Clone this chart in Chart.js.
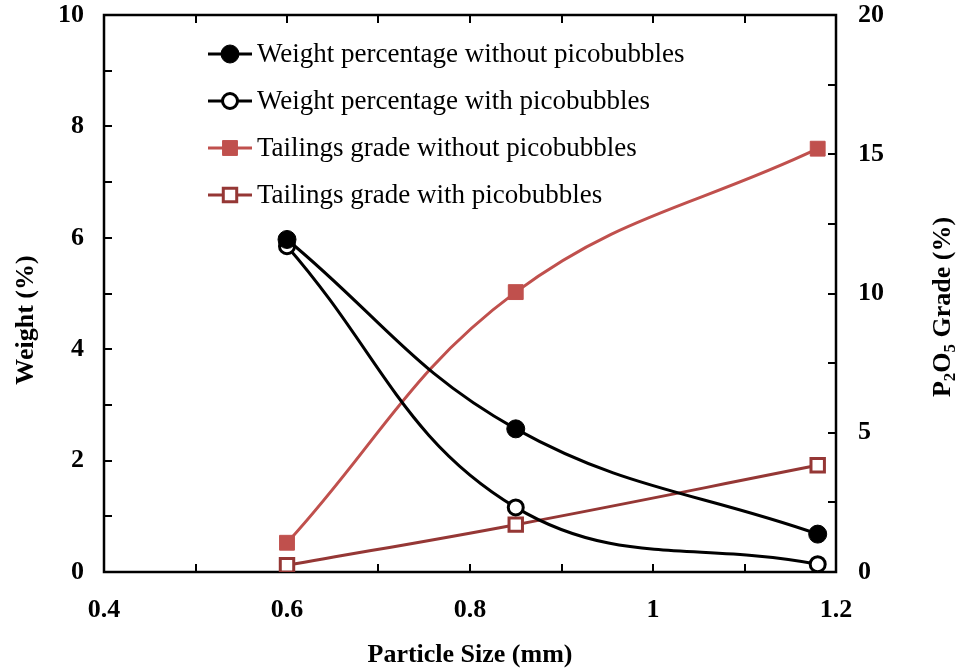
<!DOCTYPE html>
<html>
<head>
<meta charset="utf-8">
<script src="https://cdn.jsdelivr.net/npm/chart.js@4.4.1/dist/chart.umd.min.js"></script>
<style>
  html, body { margin: 0; padding: 0; background: #fff; }
  #wrap { width: 961px; height: 672px; }
</style>
</head>
<body>
<div id="wrap"><canvas id="chart" width="961" height="672"></canvas></div>
<script>
// particle size classes (mm)
const sizes = [0.6, 0.85, 1.18];

// weight percentage, left axis (%)
const weightWithout = [5.97, 2.57, 0.68];
const weightWith = [5.85, 1.16, 0.14];

// tailings P2O5 grade, right axis (%)
const gradeWithout = [1.05, 10.05, 15.2];
const gradeWith = [0.24, 1.7, 3.83];

const seriesNames = [
    "Weight percentage without picobubbles",
    "Weight percentage with picobubbles",
    "Tailings grade without picobubbles",
    "Tailings grade with picobubbles"
];

const xTickLabels = ["0.4", "0.6", "0.8", "1", "1.2"];

const SERIF = "'Liberation Serif', 'Times New Roman', serif";
const RED = "#c0504d";
const DARK_RED = "#953735";

function toPoints(values) {
    return sizes.map((s, i) => ({ x: s, y: values[i] }));
}

// plot frame plus inward major/minor ticks
const frameTicks = {
    id: "frameTicks",
    beforeDatasetsDraw(chart) {
        const { ctx, chartArea: a } = chart;
        const len = 8;
        ctx.save();
        ctx.strokeStyle = "#000";

        ctx.lineWidth = 2;
        const all = (scale) => {
            const vals = scale.ticks.map(t => t.value);
            const out = vals.slice();
            for (let i = 0; i < vals.length - 1; i++) {
                out.push((vals[i] + vals[i + 1]) / 2);
            }
            return out;
        };

        ctx.beginPath();
        all(chart.scales.x).forEach(v => {
            const px = Math.round(chart.scales.x.getPixelForValue(v));
            ctx.moveTo(px, a.bottom); ctx.lineTo(px, a.bottom - len);
            ctx.moveTo(px, a.top); ctx.lineTo(px, a.top + len);
        });
        all(chart.scales.y).forEach(v => {
            const py = Math.round(chart.scales.y.getPixelForValue(v));
            ctx.moveTo(a.left, py); ctx.lineTo(a.left + len, py);
        });
        all(chart.scales.y1).forEach(v => {
            const py = Math.round(chart.scales.y1.getPixelForValue(v));
            ctx.moveTo(a.right, py); ctx.lineTo(a.right - len, py);
        });
        ctx.stroke();

        ctx.lineWidth = 2.5;
        ctx.strokeRect(a.left, a.top, a.right - a.left, a.bottom - a.top);
        ctx.restore();
    }
};

// legend rows: line segment with marker, then label
const lineLegend = {
    id: "lineLegend",
    afterDraw(chart) {
        const { ctx } = chart;
        const x0 = 208, y0 = 54, gap = 47, seg = 44;
        ctx.save();
        chart.data.datasets.forEach((ds, i) => {
            const y = y0 + i * gap;
            ctx.strokeStyle = ds.borderColor;
            ctx.lineWidth = ds.borderWidth;
            ctx.beginPath();
            ctx.moveTo(x0, y);
            ctx.lineTo(x0 + seg, y);
            ctx.stroke();

            ctx.fillStyle = ds.pointBackgroundColor;
            ctx.strokeStyle = ds.pointBorderColor;
            ctx.lineWidth = ds.pointBorderWidth;
            Chart.helpers.drawPoint(ctx, {
                pointStyle: ds.pointStyle,
                radius: ds.pointRadius,
                rotation: 0,
                borderWidth: ds.pointBorderWidth
            }, x0 + seg / 2, y);

            ctx.fillStyle = "#000";
            ctx.font = "27px " + SERIF;
            ctx.textBaseline = "middle";
            ctx.textAlign = "left";
            ctx.fillText(ds.label, x0 + seg + 5, y + 1);
        });
        ctx.restore();
    }
};

// vertical axis titles; the right one carries subscripts (P2O5)
function drawRotated(ctx, parts, cx, cy) {
    const big = "bold 26px " + SERIF;
    const small = "bold 17px " + SERIF;
    ctx.save();
    let total = 0;
    parts.forEach(([t, sub]) => {
        ctx.font = sub ? small : big;
        total += ctx.measureText(t).width;
    });
    ctx.translate(cx, cy);
    ctx.rotate(-Math.PI / 2);
    ctx.fillStyle = "#000";
    ctx.textBaseline = "alphabetic";
    ctx.textAlign = "left";
    let x = -total / 2;
    parts.forEach(([t, sub]) => {
        ctx.font = sub ? small : big;
        ctx.fillText(t, x, sub ? 5 : 0);
        x += ctx.measureText(t).width;
    });
    ctx.restore();
}

const axisTitles = {
    id: "axisTitles",
    afterDraw(chart) {
        drawRotated(chart.ctx, [["Weight (%)", false]], 33, 320);
        drawRotated(chart.ctx, [
            ["P", false], ["2", true], ["O", false], ["5", true], [" Grade (%)", false]
        ], 950, 307);
    }
};

const tickFont = { family: SERIF, size: 26, weight: "bold" };
const titleFont = { family: SERIF, size: 26, weight: "bold" };

function noPad(s) {
    s.paddingTop = 0;
    s.paddingBottom = 0;
    s.paddingLeft = 0;
    s.paddingRight = 0;
}

new Chart(document.getElementById("chart"), {
    type: "line",
    data: {
        datasets: [
            {
                label: seriesNames[0],
                data: toPoints(weightWithout),
                yAxisID: "y",
                borderColor: "#000",
                borderWidth: 3,
                pointStyle: "circle",
                pointRadius: 9,
                pointBackgroundColor: "#000",
                pointBorderColor: "#000",
                pointBorderWidth: 1,
                tension: 0.4
            },
            {
                label: seriesNames[1],
                data: toPoints(weightWith),
                yAxisID: "y",
                borderColor: "#000",
                borderWidth: 3,
                pointStyle: "circle",
                pointRadius: 7.5,
                pointBackgroundColor: "#fff",
                pointBorderColor: "#000",
                pointBorderWidth: 3,
                tension: 0.4
            },
            {
                label: seriesNames[2],
                data: toPoints(gradeWithout),
                yAxisID: "y1",
                borderColor: RED,
                borderWidth: 3,
                pointStyle: "rect",
                pointRadius: 10.5,
                pointBackgroundColor: RED,
                pointBorderColor: RED,
                pointBorderWidth: 1,
                tension: 0.4
            },
            {
                label: seriesNames[3],
                data: toPoints(gradeWith),
                yAxisID: "y1",
                borderColor: DARK_RED,
                borderWidth: 3,
                pointStyle: "rect",
                pointRadius: 9.5,
                pointBackgroundColor: "#fff",
                pointBorderColor: DARK_RED,
                pointBorderWidth: 3,
                tension: 0.4
            }
        ]
    },
    options: {
        responsive: false,
        animation: false,
        devicePixelRatio: 1,
        layout: { padding: { top: 15, left: 0, right: 0, bottom: 0 } },
        plugins: {
            legend: { display: false },
            tooltip: { enabled: false }
        },
        scales: {
            x: {
                type: "linear",
                min: 0.4,
                max: 1.2,
                grid: { display: false, drawTicks: false },
                border: { display: false },
                ticks: {
                    stepSize: 0.2,
                    color: "#000",
                    font: tickFont,
                    padding: 23,
                    maxRotation: 0,
                    callback: (v, i) => xTickLabels[i]
                },
                title: {
                    display: true,
                    text: "Particle Size (mm)",
                    color: "#000",
                    font: titleFont,
                    padding: { top: 0, bottom: 1 }
                },
                afterFit(s) { noPad(s); s.height = 100; }
            },
            y: {
                position: "left",
                min: 0,
                max: 10,
                grid: { display: false, drawTicks: false },
                border: { display: false },
                ticks: { stepSize: 2, color: "#000", font: tickFont, padding: 20 },
                afterFit(s) { noPad(s); s.width = 104; }
            },
            y1: {
                position: "right",
                min: 0,
                max: 20,
                grid: { display: false, drawTicks: false },
                border: { display: false },
                ticks: { stepSize: 5, color: "#000", font: tickFont, padding: 22 },
                afterFit(s) { noPad(s); s.width = 125; }
            }
        }
    },
    plugins: [frameTicks, lineLegend, axisTitles]
});
</script>
</body>
</html>
